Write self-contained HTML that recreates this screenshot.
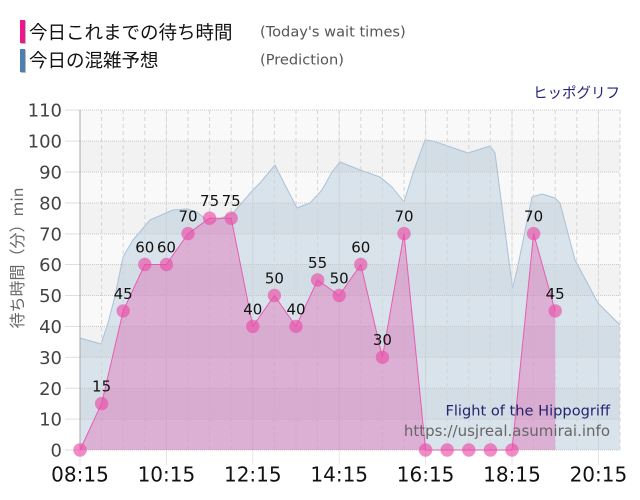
<!DOCTYPE html>
<html><head><meta charset="utf-8">
<style>
html,body{margin:0;padding:0;background:#fff;}
svg{display:block;}
text{font-family:"DejaVu Sans","Liberation Sans","Noto Sans CJK JP",sans-serif;}
.jp{font-family:"Noto Sans CJK JP","DejaVu Sans",sans-serif;}
</style></head>
<body>
<svg width="640" height="500" viewBox="0 0 640 500" xmlns="http://www.w3.org/2000/svg">
<!-- legend -->
<rect x="21" y="21" width="5" height="23" fill="#bbb"/>
<rect x="20" y="20" width="5" height="23" fill="#f0168f"/>
<text class="jp" x="29" y="32" font-size="18.5" dominant-baseline="central" fill="#111">今日これまでの待ち時間</text>
<text x="260" y="32" font-size="14.6" dominant-baseline="central" fill="#555">(Today's wait times)</text>
<rect x="21" y="50" width="5" height="23" fill="#bbb"/>
<rect x="20" y="49" width="5" height="23" fill="#4a80b2"/>
<text class="jp" x="29" y="60" font-size="18.5" dominant-baseline="central" fill="#111">今日の混雑予想</text>
<text x="260" y="60" font-size="14.6" dominant-baseline="central" fill="#555">(Prediction)</text>
<text class="jp" x="620" y="92.5" font-size="14.5" text-anchor="end" dominant-baseline="central" fill="#23237a">ヒッポグリフ</text>

<!-- background bands -->
<rect x="80" y="110" width="540" height="340" fill="#f9f9f9"/>
<rect x="80" y="141.1" width="540" height="30.9" fill="#f2f2f2"/>
<rect x="80" y="203" width="540" height="30.9" fill="#f2f2f2"/>
<rect x="80" y="264.5" width="540" height="30.9" fill="#f2f2f2"/>
<rect x="80" y="326.4" width="540" height="30.9" fill="#f2f2f2"/>
<rect x="80" y="388.2" width="540" height="30.9" fill="#f2f2f2"/>

<!-- 2h vertical lines -->
<g stroke="#e6e6e6" stroke-width="1">
<line x1="166.4" y1="110" x2="166.4" y2="465"/>
<line x1="252.8" y1="110" x2="252.8" y2="465"/>
<line x1="339.2" y1="110" x2="339.2" y2="465"/>
<line x1="425.6" y1="110" x2="425.6" y2="465"/>
<line x1="512" y1="110" x2="512" y2="465"/>
<line x1="598.4" y1="110" x2="598.4" y2="465"/>
<line x1="80" y1="450" x2="80" y2="465"/>
</g>

<!-- blue prediction area -->
<path d="M80,450 L80,338 L101,344 L108,323 L115,296 L123,257 L133,240 L150,220 L173,210 L187,209 L197,212 L210,223 L233,213 L253,190 L260,183 L275,165 L285,185 L297,208 L310,203 L322,190 L332,172 L340,162 L360,170 L380,177 L392,187 L404,202 L413,173 L425,140 L433,141 L468,153 L490,146 L495,153 L512.5,288 L517,270 L532,197 L542,194 L555,198 L560,203 L575,260 L598,303 L620,325 L620,450 Z" fill="rgba(70,130,180,0.18)" stroke="none"/>
<path d="M80,338 L101,344 L108,323 L115,296 L123,257 L133,240 L150,220 L173,210 L187,209 L197,212 L210,223 L233,213 L253,190 L260,183 L275,165 L285,185 L297,208 L310,203 L322,190 L332,172 L340,162 L360,170 L380,177 L392,187 L404,202 L413,173 L425,140 L433,141 L468,153 L490,146 L495,153 L512.5,288 L517,270 L532,197 L542,194 L555,198 L560,203 L575,260 L598,303 L620,325" fill="none" stroke="#a9c1d8" stroke-width="1" stroke-linejoin="round"/>

<!-- horizontal dotted grid -->
<g stroke="#c8c8c8" stroke-width="1" stroke-dasharray="1,1">
<line x1="80" y1="110" x2="620" y2="110"/>
<line x1="80" y1="141.1" x2="620" y2="141.1"/>
<line x1="80" y1="172" x2="620" y2="172"/>
<line x1="80" y1="203" x2="620" y2="203"/>
<line x1="80" y1="233.9" x2="620" y2="233.9"/>
<line x1="80" y1="264.5" x2="620" y2="264.5"/>
<line x1="80" y1="295.5" x2="620" y2="295.5"/>
<line x1="80" y1="326.4" x2="620" y2="326.4"/>
<line x1="80" y1="357.3" x2="620" y2="357.3"/>
<line x1="80" y1="388.2" x2="620" y2="388.2"/>
<line x1="80" y1="419.1" x2="620" y2="419.1"/>
<line x1="80" y1="450" x2="620" y2="450"/>
</g>
<g stroke="#dedede" stroke-width="1">
<line x1="65" y1="110" x2="80" y2="110"/>
<line x1="65" y1="141.1" x2="80" y2="141.1"/>
<line x1="65" y1="172" x2="80" y2="172"/>
<line x1="65" y1="203" x2="80" y2="203"/>
<line x1="65" y1="233.9" x2="80" y2="233.9"/>
<line x1="65" y1="264.5" x2="80" y2="264.5"/>
<line x1="65" y1="295.5" x2="80" y2="295.5"/>
<line x1="65" y1="326.4" x2="80" y2="326.4"/>
<line x1="65" y1="357.3" x2="80" y2="357.3"/>
<line x1="65" y1="388.2" x2="80" y2="388.2"/>
<line x1="65" y1="419.1" x2="80" y2="419.1"/>
<line x1="65" y1="450" x2="80" y2="450"/>
</g>
<!-- vertical dashed grid every 30 min -->
<g stroke="#d4d4d4" stroke-width="1" stroke-dasharray="4,3">
<line x1="101.6" y1="110" x2="101.6" y2="450"/>
<line x1="123.2" y1="110" x2="123.2" y2="450"/>
<line x1="144.8" y1="110" x2="144.8" y2="450"/>
<line x1="166.4" y1="110" x2="166.4" y2="450"/>
<line x1="188" y1="110" x2="188" y2="450"/>
<line x1="209.6" y1="110" x2="209.6" y2="450"/>
<line x1="231.2" y1="110" x2="231.2" y2="450"/>
<line x1="252.8" y1="110" x2="252.8" y2="450"/>
<line x1="274.4" y1="110" x2="274.4" y2="450"/>
<line x1="296" y1="110" x2="296" y2="450"/>
<line x1="317.6" y1="110" x2="317.6" y2="450"/>
<line x1="339.2" y1="110" x2="339.2" y2="450"/>
<line x1="360.8" y1="110" x2="360.8" y2="450"/>
<line x1="382.4" y1="110" x2="382.4" y2="450"/>
<line x1="404" y1="110" x2="404" y2="450"/>
<line x1="425.6" y1="110" x2="425.6" y2="450"/>
<line x1="447.2" y1="110" x2="447.2" y2="450"/>
<line x1="468.8" y1="110" x2="468.8" y2="450"/>
<line x1="490.4" y1="110" x2="490.4" y2="450"/>
<line x1="512" y1="110" x2="512" y2="450"/>
<line x1="533.6" y1="110" x2="533.6" y2="450"/>
<line x1="555.2" y1="110" x2="555.2" y2="450"/>
<line x1="576.8" y1="110" x2="576.8" y2="450"/>
<line x1="598.4" y1="110" x2="598.4" y2="450"/>
<line x1="620" y1="110" x2="620" y2="450"/>
</g>
<line x1="80" y1="110" x2="80" y2="450" stroke="#a8a8a8" stroke-width="1"/>

<!-- pink area -->
<path d="M80,450 L101.6,403.6 L123.2,310.9 L144.8,264.5 L166.4,264.5 L188,233.6 L209.6,218.2 L231.2,218.2 L252.8,326.4 L274.4,295.5 L296,326.4 L317.6,280 L339.2,295.5 L360.8,264.5 L382.4,357.3 L404,233.6 L425.6,450 L447.2,450 L468.8,450 L490.4,450 L512,450 L533.6,233.6 L555.2,310.9 L555.2,450 Z" fill="rgba(225,80,170,0.34)"/>
<path d="M80,450 L101.6,403.6 L123.2,310.9 L144.8,264.5 L166.4,264.5 L188,233.6 L209.6,218.2 L231.2,218.2 L252.8,326.4 L274.4,295.5 L296,326.4 L317.6,280 L339.2,295.5 L360.8,264.5 L382.4,357.3 L404,233.6 L425.6,450 L447.2,450 L468.8,450 L490.4,450 L512,450 L533.6,233.6 L555.2,310.9" fill="none" stroke="#e65cb0" stroke-width="1" stroke-linejoin="round"/>

<!-- dots -->
<g fill="#ea4fa8" fill-opacity="0.65">
<circle cx="80" cy="450" r="6.7"/>
<circle cx="101.6" cy="403.6" r="6.7"/>
<circle cx="123.2" cy="310.9" r="6.7"/>
<circle cx="144.8" cy="264.5" r="6.7"/>
<circle cx="166.4" cy="264.5" r="6.7"/>
<circle cx="188" cy="233.6" r="6.7"/>
<circle cx="209.6" cy="218.2" r="6.7"/>
<circle cx="231.2" cy="218.2" r="6.7"/>
<circle cx="252.8" cy="326.4" r="6.7"/>
<circle cx="274.4" cy="295.5" r="6.7"/>
<circle cx="296" cy="326.4" r="6.7"/>
<circle cx="317.6" cy="280" r="6.7"/>
<circle cx="339.2" cy="295.5" r="6.7"/>
<circle cx="360.8" cy="264.5" r="6.7"/>
<circle cx="382.4" cy="357.3" r="6.7"/>
<circle cx="404" cy="233.6" r="6.7"/>
<circle cx="425.6" cy="450" r="6.7"/>
<circle cx="447.2" cy="450" r="6.7"/>
<circle cx="468.8" cy="450" r="6.7"/>
<circle cx="490.4" cy="450" r="6.7"/>
<circle cx="512" cy="450" r="6.7"/>
<circle cx="533.6" cy="233.6" r="6.7"/>
<circle cx="555.2" cy="310.9" r="6.7"/>
</g>

<!-- data labels -->
<g font-size="15" fill="#111" text-anchor="middle">
<text x="101.6" y="391.5">15</text>
<text x="123.2" y="298.8">45</text>
<text x="144.8" y="252.4">60</text>
<text x="166.4" y="252.4">60</text>
<text x="188" y="221.5">70</text>
<text x="209.6" y="206.1">75</text>
<text x="231.2" y="206.1">75</text>
<text x="252.8" y="314.3">40</text>
<text x="274.4" y="283.4">50</text>
<text x="296" y="314.3">40</text>
<text x="317.6" y="267.9">55</text>
<text x="339.2" y="283.4">50</text>
<text x="360.8" y="252.4">60</text>
<text x="382.4" y="345.2">30</text>
<text x="404" y="221.5">70</text>
<text x="533.6" y="221.5">70</text>
<text x="555.2" y="298.8">45</text>
</g>

<!-- y tick labels -->
<g font-size="18" fill="#444" text-anchor="end">
<text x="62" y="116.6">110</text>
<text x="62" y="147.7">100</text>
<text x="62" y="178.6">90</text>
<text x="62" y="209.6">80</text>
<text x="62" y="240.5">70</text>
<text x="62" y="271.1">60</text>
<text x="62" y="302.1">50</text>
<text x="62" y="333">40</text>
<text x="62" y="363.9">30</text>
<text x="62" y="394.8">20</text>
<text x="62" y="425.7">10</text>
<text x="62" y="456.6">0</text>
</g>
<text class="jp" transform="translate(16,258) rotate(-90)" font-size="16" fill="#666" text-anchor="middle" dominant-baseline="central">待ち時間（分）min</text>

<!-- x tick labels -->
<g font-size="20" fill="#111" text-anchor="middle">
<text x="80" y="481.7">08:15</text>
<text x="166.4" y="481.7">10:15</text>
<text x="252.8" y="481.7">12:15</text>
<text x="339.2" y="481.7">14:15</text>
<text x="425.6" y="481.7">16:15</text>
<text x="512" y="481.7">18:15</text>
<text x="598.4" y="481.7">20:15</text>
</g>

<!-- watermark -->
<text x="610" y="411" font-size="14.6" fill="#24246e" text-anchor="end" dominant-baseline="central">Flight of the Hippogriff</text>
<text x="610" y="431" font-size="15" fill="#666" text-anchor="end" dominant-baseline="central">https://usjreal.asumirai.info</text>
</svg>
</body></html>
